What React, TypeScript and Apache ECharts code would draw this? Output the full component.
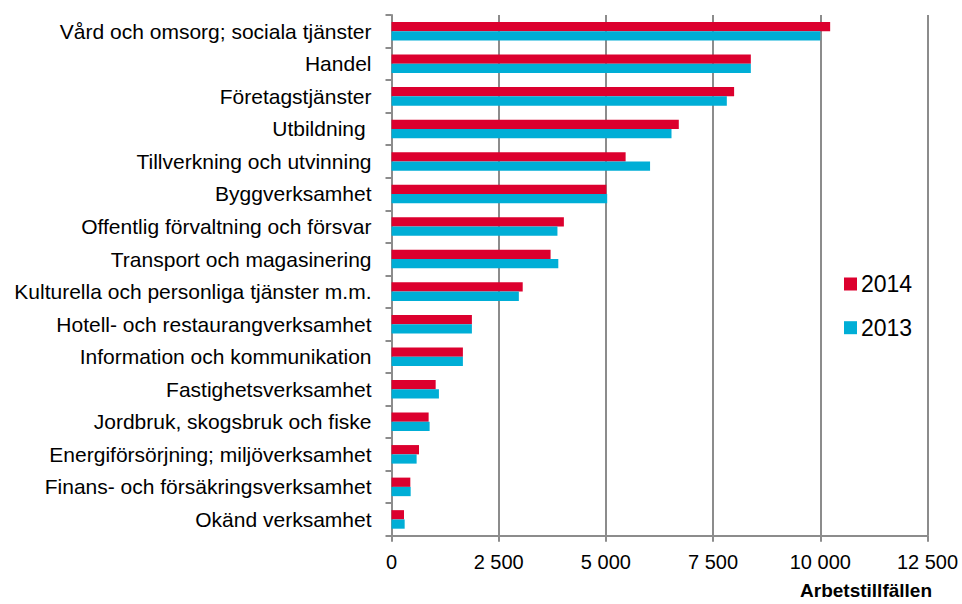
import React, { useEffect, useRef } from "react";
import * as echarts from "echarts";

const categories = [
  "Vård och omsorg; sociala tjänster",
  "Handel",
  "Företagstjänster",
  "Utbildning ",
  "Tillverkning och utvinning",
  "Byggverksamhet",
  "Offentlig förvaltning och försvar",
  "Transport och magasinering",
  "Kulturella och personliga tjänster m.m.",
  "Hotell- och restaurangverksamhet",
  "Information och kommunikation",
  "Fastighetsverksamhet",
  "Jordbruk, skogsbruk och fiske",
  "Energiförsörjning; miljöverksamhet",
  "Finans- och försäkringsverksamhet",
  "Okänd verksamhet",
];

const values2014 = [10230, 8380, 7990, 6700, 5460, 5010, 4020, 3710, 3060, 1875, 1665, 1030, 866, 641, 439, 291];
const values2013 = [10000, 8380, 7820, 6530, 6030, 5030, 3870, 3890, 2970, 1875, 1665, 1106, 889, 586, 447, 307];

const seriesNames = ["2014", "2013"];
const xTicks = { min: 0, max: 12500, interval: 2500 };
const axisName = "Arbetstillfällen";

const RED = "#dc002e";
const CYAN = "#00aed6";
const GREY = "#8c8c8c";
const FONT = "'Liberation Sans', Arial, sans-serif";

function fmt(v: number): string {
  return String(v).replace(/\B(?=(\d{3})+(?!\d))/g, " ");
}

export default function App() {
  const ref = useRef<HTMLDivElement>(null);
  useEffect(() => {
    if (!ref.current) return;
    const chart = echarts.init(ref.current, null, { renderer: "svg" });
    chart.setOption({
      animation: false,
      backgroundColor: "#ffffff",
      textStyle: { fontFamily: FONT },
      grid: { left: 391.5, right: 34.5, top: 15, bottom: 68.3, containLabel: false },
      legend: {
        orient: "vertical",
        left: 839,
        top: 267,
        itemWidth: 13,
        itemHeight: 13,
        itemGap: 19.7,
        icon: "rect",
        textStyle: { fontSize: 23, lineHeight: 24, color: "#000", fontFamily: FONT, padding: [0, 0, 0, -1] },
        data: seriesNames,
      },
      xAxis: {
        type: "value",
        min: xTicks.min,
        max: xTicks.max,
        interval: xTicks.interval,
        axisLine: { show: true, lineStyle: { color: GREY, width: 2 } },
        axisTick: { show: true, length: 6, lineStyle: { color: GREY, width: 2 } },
        splitLine: { show: true, lineStyle: { color: GREY, width: 2 } },
        axisLabel: { formatter: (v: number) => fmt(v), fontSize: 20, color: "#000", margin: 16, fontFamily: FONT },
      },
      yAxis: {
        type: "category",
        inverse: true,
        data: categories,
        axisLine: { show: true, lineStyle: { color: GREY, width: 2 } },
        axisTick: { show: true, length: 6, alignWithLabel: false, lineStyle: { color: GREY, width: 2 } },
        axisLabel: { fontSize: 21, color: "#000", margin: 20, fontFamily: FONT },
      },
      series: [
        {
          name: seriesNames[0],
          type: "bar",
          data: values2014,
          itemStyle: { color: RED },
          barGap: "0%",
          barCategoryGap: "43%",
        },
        {
          name: seriesNames[1],
          type: "bar",
          data: values2013,
          itemStyle: { color: CYAN },
          barGap: "0%",
          barCategoryGap: "43%",
        },
      ],
      graphic: [
        {
          type: "text",
          right: 30,
          top: 581,
          style: { text: axisName, font: `bold 19px ${FONT}`, fill: "#000" },
        },
      ],
    });
    return () => chart.dispose();
  }, []);
  return <div ref={ref} style={{ position: "fixed", left: 0, top: 0, width: 962, height: 604 }} />;
}
